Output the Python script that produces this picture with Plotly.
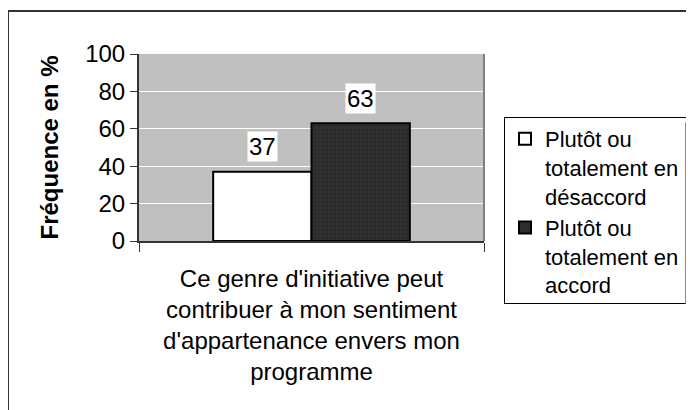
import plotly.graph_objects as go

category = ["Ce genre d'initiative peut<br>contribuer à mon sentiment<br>d'appartenance envers mon<br>programme"]
series_names = ["Plutôt ou<br>totalement en<br>désaccord", "Plutôt ou<br>totalement en<br>accord"]
values_desaccord = [37]
values_accord = [63]
y_ticks = [0, 20, 40, 60, 80, 100]

FONT = "Arial, 'Liberation Sans', sans-serif"

# page body has an 8px margin, so the figure is laid out with that offset in mind
L, R, T, B = 131, 218, 46, 177
PW = 694 - L - R
PH = 410 - T - B

fig = go.Figure()
fig.add_trace(go.Bar(
    x=category, y=values_desaccord, name=series_names[0],
    marker=dict(color="white", line=dict(color="black", width=2)),
))
fig.add_trace(go.Bar(
    x=category, y=values_accord, name=series_names[1],
    marker=dict(color="#2a2a2a", line=dict(color="black", width=2),
                pattern=dict(shape="+", fgcolor="#4a4a4a", size=4, solidity=0.25)),
))

# data labels with white background
for vals, shift in ((values_desaccord, -49), (values_accord, 49)):
    for c, v in zip(category, vals):
        fig.add_annotation(x=c, y=v, text=str(v), showarrow=False,
                           xshift=shift, yshift=25, bgcolor="white",
                           borderpad=1, font=dict(size=24, color="black", family=FONT))

# outer chart border (page x=8, y=11)
fig.add_shape(type="rect", xref="paper", yref="paper",
              x0=(0 - L) / PW, x1=1.9, y0=-1.2, y1=1 + (T - 3) / PH,
              line=dict(color="#333333", width=2), layer="below")
# plot area right border
fig.add_shape(type="line", xref="paper", yref="paper",
              x0=1, x1=1, y0=0, y1=1, line=dict(color="#808080", width=2))

fig.update_layout(
    width=694, height=410,
    margin=dict(l=L, r=R, t=T, b=B),
    paper_bgcolor="white", plot_bgcolor="#c0c0c0",
    barmode="group", bargap=0.43, bargroupgap=0,
    font=dict(family=FONT, size=24, color="black"),
    showlegend=True,
    legend=dict(x=(504 - 8 - L) / PW, y=1 - (117 - 8 - T) / PH,
                xanchor="left", yanchor="top",
                bgcolor="white", bordercolor="black", borderwidth=1,
                font=dict(size=22, family=FONT), tracegroupgap=8,
                itemwidth=30, valign="top"),
)
fig.update_yaxes(range=[0, 100], tickvals=y_ticks, ticks="outside", ticklen=7,
                 tickcolor="#333333", showline=True, linecolor="#333333", linewidth=2,
                 gridcolor="white", gridwidth=1, zeroline=False,
                 tickfont=dict(size=24),
                 title=dict(text="<b>Fréquence en %</b>", font=dict(size=24), standoff=20))
fig.update_xaxes(ticks="outside", tickson="boundaries", ticklen=9, tickcolor="#333333",
                 showline=True, linecolor="#333333", linewidth=2,
                 tickfont=dict(size=24), ticklabelstandoff=15)

fig.write_html("out.html")
